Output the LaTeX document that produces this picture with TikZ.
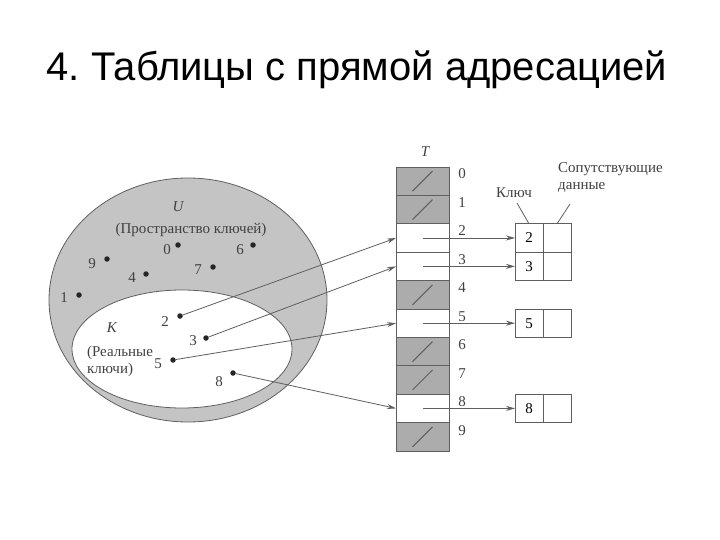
\documentclass[tikz,border=0pt]{standalone}
\usepackage{fontspec}
\setmainfont{Liberation Serif}
\newfontfamily\titlefont{Liberation Sans}
\usetikzlibrary{arrows.meta,calc}
\definecolor{outerg}{RGB}{196,196,196}
\definecolor{cellg}{RGB}{172,172,172}
\definecolor{lineg}{RGB}{95,95,95}
\tikzset{
  lbl/.style={font=\fontsize{15}{17}\selectfont, text=black!75, inner sep=0pt},
  dotnode/.style={circle, fill=black!85, inner sep=0pt, minimum size=5.5pt},
  cell/.style={draw=lineg, line width=0.9pt, minimum width=53pt, minimum height=28.4pt, inner sep=0pt, outer sep=0pt},
  fullcell/.style={cell, fill=cellg},
  emptycell/.style={cell, fill=white},
  rec/.style={draw=lineg, line width=0.9pt, minimum width=28pt, minimum height=26pt, inner sep=0pt, outer sep=0pt, font=\fontsize{15}{17}\selectfont},
  arr/.style={draw=lineg, line width=0.8pt, -{Stealth[length=9pt,width=5pt]}},
  slash/.style={draw=lineg, line width=1pt},
}
\begin{document}
\frenchspacing
\begin{tikzpicture}[x=1pt,y=-1pt]
\useasboundingbox (0,0) rectangle (720,540);
% title
\node[font=\titlefont\fontsize{40}{44}\selectfont, anchor=center] (title) at (357,70) {4. Таблицы с прямой адресацией};
% ellipses
\draw[draw=lineg, line width=0.8pt, fill=outerg] (188,300) ellipse [x radius=139, y radius=122];
\draw[draw=lineg, line width=0.8pt, fill=white] (182,349) ellipse [x radius=110, y radius=59];
% ellipse texts
\node[lbl, font=\fontsize{15}{17}\selectfont\itshape] (U) at (178,207) {U};
\node[lbl] (ulab) at (191,230) {(Пространство ключей)};
\node[lbl, font=\fontsize{15}{17}\selectfont\itshape] (K) at (112,328) {K};
\node[lbl, align=left] (klab) at (120,361) {(Реальные\\ключи)};
% dots and their labels
\foreach \n/\dx/\dy/\lx/\ly in {0/178/245/167/250, 6/253/245/240/250, 9/107/259/92/264, 4/146/274/132/278, 7/213/267/198/270, 1/79/295/64/298, 2/180/316/165/322, 3/206/338/193/341, 5/173/360/158/364, 8/233/373/219/382}{
  \node[dotnode] (p\n) at (\dx,\dy) {};
  \node[lbl] (pl\n) at (\lx,\ly) {\n};
}
% table
\node[lbl] (T) at (425,152) {\itshape T};
\foreach \i/\st in {0/fullcell,1/fullcell,2/emptycell,3/emptycell,4/fullcell,5/emptycell,6/fullcell,7/fullcell,8/emptycell,9/fullcell}{
  \node[\st] (t\i) at (422.5,{181.2+28.4*\i}) {};
  \node[lbl] (ix\i) at (462,{174+28.5*\i}) {\i};
}
\foreach \i in {0,1,4,6,7,9}{
  \draw[slash] ($(t\i.center)+(-10,10)$) -- ($(t\i.center)+(10,-10)$);
}
% records
\foreach \i in {2,3,5,8}{
  \node[rec, minimum height=28.4pt] (k\i) at (529,{181.2+28.4*\i}) {\i};
  \node[rec, minimum height=28.4pt, anchor=west] (d\i) at (k\i.east) {};
  \draw[arr] (t\i.center) -- (k\i.west);
  \draw[arr] (p\i) -- (t\i.west);
}
% header labels
\node[lbl] (key) at (514,193) {Ключ};
\node[lbl, align=left, anchor=north west] (data) at (558,162) {Сопутствующие\\данные};
\coordinate (keyend) at (517,203);
\coordinate (dataend) at (570,204);
\draw[lineg, line width=0.8pt] (keyend) -- (k2.north);
\draw[lineg, line width=0.8pt] (dataend) -- (d2.north);
\end{tikzpicture}
\end{document}
